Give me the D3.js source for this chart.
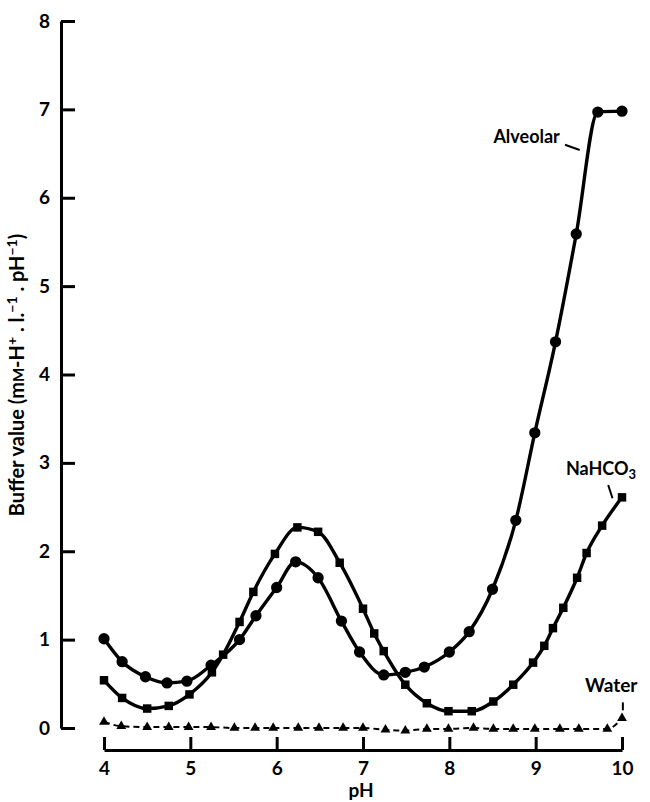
<!DOCTYPE html>
<html>
<head>
<meta charset="utf-8">
<script src="https://cdn.jsdelivr.net/npm/d3@7"></script>
<style>
	body{margin:0;background:#fff;}
	svg{display:block;font-family:Lato, 'Open Sans', sans-serif;font-weight:bold;}
</style>
</head>
<body>
<div class="chart"></div>
<script>
// values (pH, buffer value)
const alveolarPH = [4.0,4.21,4.48,4.73,4.96,5.24,5.57,5.76,6.0,6.22,6.48,6.75,6.96,7.24,7.49,7.71,8.0,8.23,8.5,8.77,8.99,9.23,9.47,9.72,10.0];
const alveolarVal = [1.01,0.75,0.58,0.51,0.53,0.71,1.0,1.27,1.59,1.88,1.70,1.21,0.86,0.60,0.63,0.69,0.86,1.09,1.57,2.35,3.34,4.37,5.59,6.97,6.98];

const nahco3PH = [4.0,4.21,4.5,4.75,4.99,5.25,5.38,5.57,5.73,5.98,6.24,6.48,6.73,7.0,7.13,7.24,7.49,7.74,7.99,8.26,8.51,8.74,8.97,9.1,9.2,9.32,9.48,9.59,9.77,10.0];
const nahco3Val = [0.54,0.34,0.22,0.25,0.38,0.63,0.83,1.20,1.54,1.97,2.27,2.22,1.87,1.35,1.07,0.87,0.49,0.28,0.19,0.19,0.30,0.49,0.74,0.93,1.13,1.36,1.70,1.98,2.29,2.61];

const waterPH = [4.0,4.2,4.5,4.75,4.98,5.24,5.51,5.75,5.96,6.25,6.49,6.77,7.0,7.26,7.49,7.74,7.99,8.28,8.51,8.74,8.99,9.28,9.5,9.83,10.0];
const waterVal = [0.07,0.02,0.01,0.01,0.01,0.01,0.0,0.0,0.0,0.0,0.0,0.0,0.0,-0.02,-0.03,-0.01,-0.01,0.0,-0.01,-0.01,-0.01,-0.01,-0.01,-0.01,0.11];

const xTicks = [4,5,6,7,8,9,10];
const yTicks = [0,1,2,3,4,5,6,7,8];

const W = 650;
const H = 802;

const svg = d3.select('.chart').append('svg')
	.attr('width', W)
	.attr('height', H);

//scales
const x = d3.scaleLinear().domain([4,10]).range([104,622]);
const y = d3.scaleLinear().domain([0,8]).range([728,21]);

//y axis, ticks pointing inwards
const axisY = d3.axisLeft(y)
	.tickValues(yTicks)
	.tickFormat(d3.format('d'))
	.tickSize(-14)
	.tickSizeOuter(0)
	.tickPadding(11);
const gY = svg.append('g')
	.attr('transform', `translate(61,0)`)
	.call(axisY);

//x axis sits below the data, ticks pointing up
const axisX = d3.axisBottom(x)
	.tickValues(xTicks)
	.tickFormat(d3.format('d'))
	.tickSize(-13)
	.tickSizeOuter(0)
	.tickPadding(12);
const gX = svg.append('g')
	.attr('transform', `translate(0,750)`)
	.call(axisX);

[gX, gY].forEach(g => {
	g.selectAll('path, line')
		.attr('stroke', '#000')
		.attr('stroke-width', 3);
	g.selectAll('text')
		.attr('fill', '#000')
		.style('font-size', '19px')
		.style('font-weight', 'bold')
		.style('font-family', 'Lato, sans-serif');
});

//axis titles
svg.append('text')
	.attr('x', 361)
	.attr('y', 797)
	.attr('text-anchor', 'middle')
	.style('font-size', '19px')
	.text('pH');

const yTitle = svg.append('text')
	.attr('transform', 'translate(24,375) rotate(-90)')
	.attr('text-anchor', 'middle')
	.style('font-size', '20px');
yTitle.append('tspan').text('Buffer value (m');
yTitle.append('tspan').style('font-size', '15px').text('M');
yTitle.append('tspan').text('-H');
yTitle.append('tspan').attr('dy', -7).style('font-size', '14px').text('+');
yTitle.append('tspan').attr('dy', 7).text(' . l.');
yTitle.append('tspan').attr('dy', -7).style('font-size', '14px').text('−1');
yTitle.append('tspan').attr('dy', 7).text(' . pH');
yTitle.append('tspan').attr('dy', -7).style('font-size', '14px').text('−1');
yTitle.append('tspan').attr('dy', 7).text(')');

//series
const series = [
	{name:'alveolar', ph:alveolarPH, val:alveolarVal, symbol:d3.symbolCircle, size:100, dash:null, width:3.4},
	{name:'nahco3', ph:nahco3PH, val:nahco3Val, symbol:d3.symbolSquare, size:72, dash:null, width:3.4},
	{name:'water', ph:waterPH, val:waterVal, symbol:d3.symbolTriangle, size:42, dash:'6,4', width:2}
];

const line = d3.line()
	.x(d => x(d[0]))
	.y(d => y(d[1]))
	.curve(d3.curveMonotoneX);

series.forEach(s => {
	const pts = s.ph.map((p,i) => [p, s.val[i]]);
	const g = svg.append('g').attr('class', s.name);
	g.append('path')
		.attr('d', line(pts))
		.attr('fill', 'none')
		.attr('stroke', '#000')
		.attr('stroke-width', s.width)
		.attr('stroke-dasharray', s.dash);
	g.selectAll('.pt')
		.data(pts)
		.enter()
		.append('path')
		.attr('class', 'pt')
		.attr('transform', d => `translate(${x(d[0])},${y(d[1])})`)
		.attr('d', d3.symbol().type(s.symbol).size(s.size))
		.attr('fill', '#000');
});

//labels with little leader lines
function leader(x1, y1, x2, y2, w){
	svg.append('line')
		.attr('x1', x(x1)).attr('y1', y(y1))
		.attr('x2', x(x2)).attr('y2', y(y2))
		.attr('stroke', '#000')
		.attr('stroke-width', w);
}

svg.append('text')
	.attr('x', x(9.28))
	.attr('y', y(6.62))
	.attr('text-anchor', 'end')
	.style('font-size', '18px')
	.text('Alveolar');
leader(9.34, 6.60, 9.51, 6.54, 2);

const naLabel = svg.append('text')
	.attr('x', x(9.35))
	.attr('y', y(2.86))
	.style('font-size', '18px');
naLabel.append('tspan').text('NaHCO');
naLabel.append('tspan').attr('dy', 4).style('font-size', '13px').text('3');
leader(9.84, 2.75, 9.89, 2.60, 2);

svg.append('text')
	.attr('x', x(9.57))
	.attr('y', y(0.41))
	.style('font-size', '19px')
	.text('Water');
leader(10.01, 0.29, 10.01, 0.20, 2);
</script>
</body>
</html>
